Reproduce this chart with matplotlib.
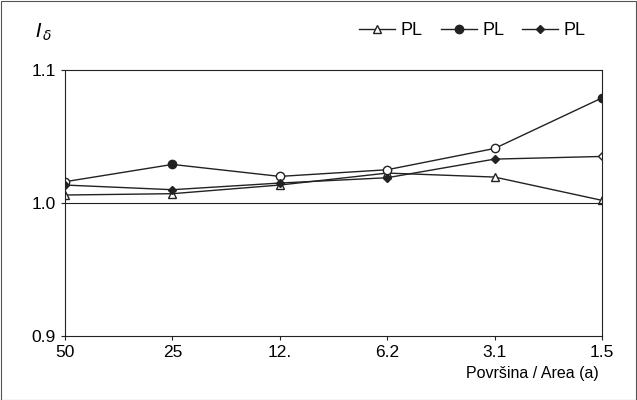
import matplotlib.pyplot as plt
from matplotlib.lines import Line2D

plt.rcParams["font.family"] = ["Liberation Sans", "DejaVu Sans"]

labels = ["50", "25", "12.", "6.2", "3.1", "1.5"]
triangle = [1.006, 1.007, 1.0135, 1.0225, 1.0195, 1.002]
circle = [1.016, 1.029, 1.020, 1.025, 1.041, 1.079]
circle_filled = [False, True, False, False, False, True]
diamond = [1.0135, 1.010, 1.015, 1.019, 1.033, 1.035]
diamond_filled = [True, True, True, True, True, False]

fig = plt.figure(figsize=(6.37, 4.0), dpi=100)
fig.patches.append(plt.Rectangle((0.001, 0.001), 0.997, 0.997, transform=fig.transFigure,
                                 fill=False, edgecolor="#555555", linewidth=0.8))
ax = fig.add_axes([0.102, 0.16, 0.843, 0.665])
x = list(range(len(labels)))
lc = "#222222"

ax.plot(x, triangle, color=lc, lw=1, marker="^", ms=5.5, mfc="white", mec=lc)
ax.plot(x, circle, color=lc, lw=1)
for xi, yi, f in zip(x, circle, circle_filled):
    ax.plot(xi, yi, "o", ms=6, mfc=lc if f else "white", mec=lc)
ax.plot(x, diamond, color=lc, lw=1)
for xi, yi, f in zip(x, diamond, diamond_filled):
    ax.plot(xi, yi, "D", ms=4, mfc=lc if f else "white", mec=lc)

ax.axhline(1.0, color=lc, lw=0.8)
ax.set_xlim(0, 5)
ax.set_ylim(0.9, 1.1)
ax.set_yticks([0.9, 1.0, 1.1])
ax.set_yticklabels(["0.9", "1.0", "1.1"])
ax.set_xticks(x)
ax.set_xticklabels(labels)
ax.tick_params(labelsize=12.5, length=3, color=lc)
for s in ax.spines.values():
    s.set_color(lc)

handles = [
    Line2D([], [], color=lc, lw=1, marker="^", ms=5.5, mfc="white", mec=lc),
    Line2D([], [], color=lc, lw=1, marker="o", ms=6, mfc=lc, mec=lc),
    Line2D([], [], color=lc, lw=1, marker="D", ms=4, mfc=lc, mec=lc),
]
fig.legend(handles, ["PL", "PL", "PL"], loc="upper right", bbox_to_anchor=(0.945, 0.985),
           ncol=3, frameon=False, fontsize=13, handlelength=2.0, columnspacing=1.0,
           handletextpad=0.3)
fig.text(0.055, 0.905, "$I_{\\,\\delta}$", fontsize=14, style="italic")
fig.text(0.94, 0.085, "Površina / Area (a)", fontsize=11.5, ha="right", va="top")

fig.savefig("out.png", dpi=100)
